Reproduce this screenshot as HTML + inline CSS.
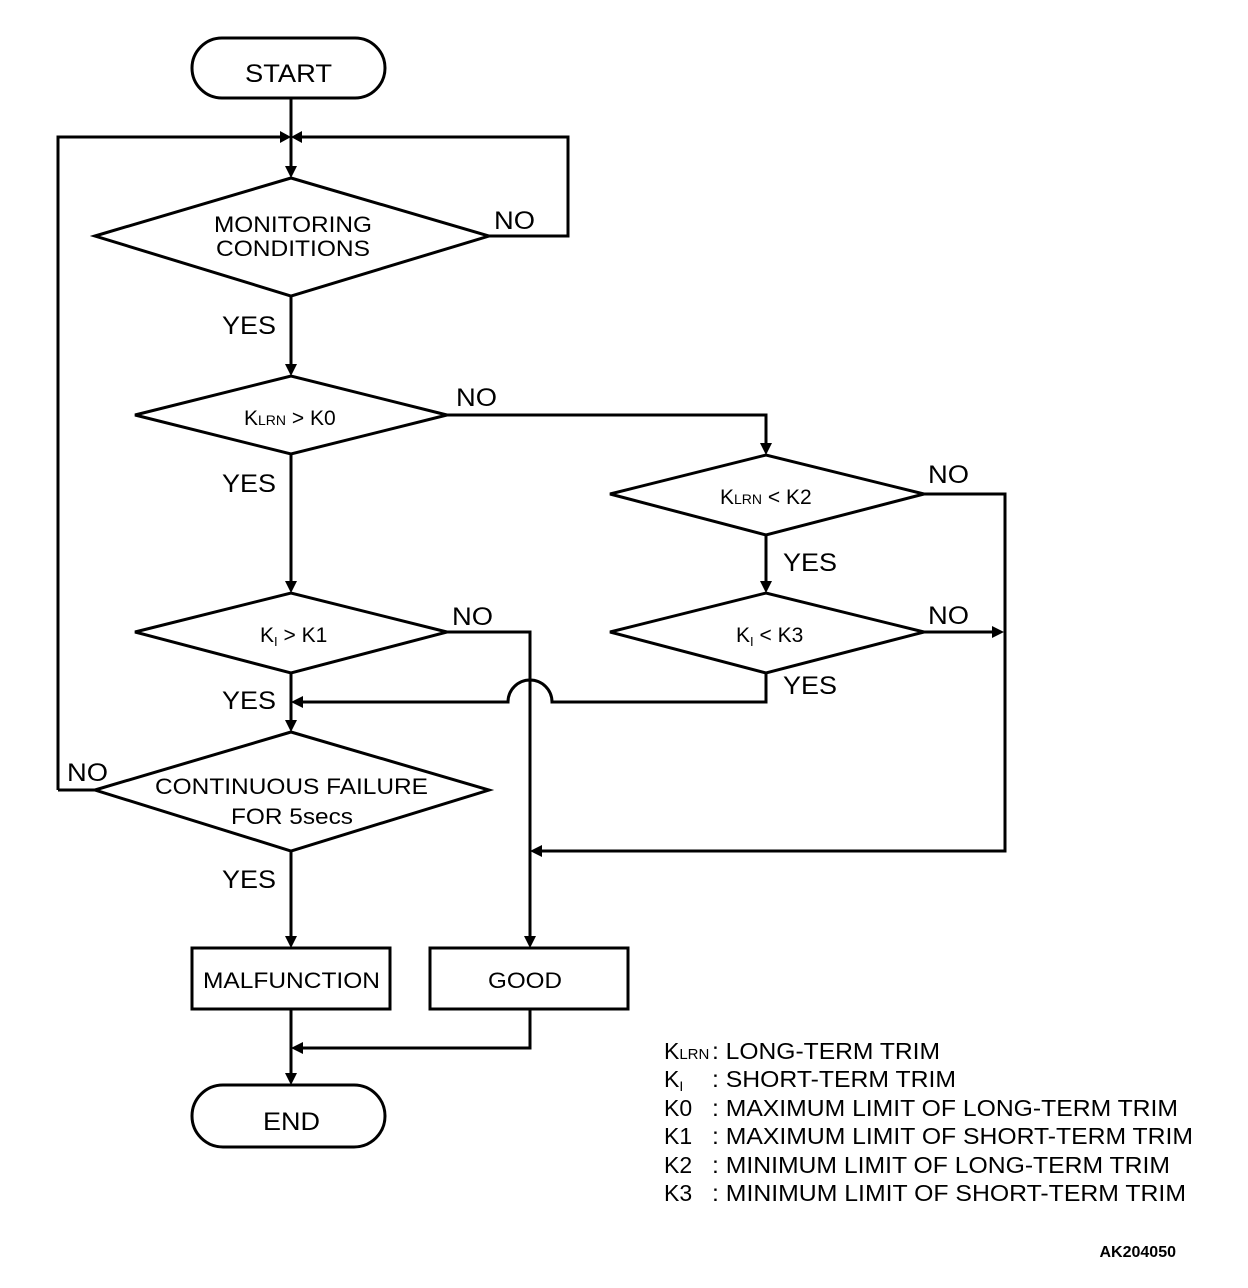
<!DOCTYPE html>
<html><head><meta charset="utf-8"><style>
html,body{margin:0;padding:0;background:#fff;}
svg{display:block;}
text{font-family:"Liberation Sans",Arial,sans-serif;fill:#000;}
</style></head><body>
<svg width="1248" height="1288" viewBox="0 0 1248 1288" xmlns="http://www.w3.org/2000/svg">
<g fill="none" stroke="#000" stroke-width="3">
<rect x="192" y="38" width="193" height="60" rx="30"/>
<polygon points="95,236 291,178 489,236 291,296"/>
<polygon points="135,415 291,376 447,415 291,454"/>
<polygon points="610,494 766,455 924,494 766,535"/>
<polygon points="610,632 766,593 924,632 766,673"/>
<polygon points="135,632 291,593 447,632 291,673"/>
<polygon points="95,790 291,732 489,790 291,851"/>
<rect x="192" y="948" width="198" height="61"/>
<rect x="430" y="948" width="198" height="61"/>
<rect x="192" y="1085" width="193" height="62" rx="31"/>
<polyline points="291,98 291,170"/>
<polyline points="58,790 58,137 283,137"/>
<polyline points="489,236 568,236 568,137 299,137"/>
<polyline points="291,296 291,368"/>
<polyline points="447,415 766,415 766,447"/>
<polyline points="924,494 1005,494 1005,851 538,851"/>
<polyline points="766,535 766,585"/>
<polyline points="924,632 995,632"/>
<path d="M766,673 L766,702 L552,702 A22,22 0 0 0 508,702 L299,702"/>
<polyline points="291,454 291,585"/>
<polyline points="447,632 530,632 530,940"/>
<polyline points="291,673 291,724"/>
<polyline points="95,790 58,790"/>
<polyline points="291,851 291,940"/>
<polyline points="291,1009 291,1077"/>
<polyline points="530,1009 530,1048 299,1048"/>
</g>
<g fill="#000">
<polygon points="291,178 285,166 297,166"/>
<polygon points="291,137 280,131 280,143"/>
<polygon points="291,137 302,131 302,143"/>
<polygon points="291,376 285,364 297,364"/>
<polygon points="766,455 760,443 772,443"/>
<polygon points="530,851 542,845 542,857"/>
<polygon points="766,593 760,581 772,581"/>
<polygon points="1004,632 992,626 992,638"/>
<polygon points="291,702 303,696 303,708"/>
<polygon points="291,593 285,581 297,581"/>
<polygon points="530,948 524,936 536,936"/>
<polygon points="291,732 285,720 297,720"/>
<polygon points="291,948 285,936 297,936"/>
<polygon points="291,1085 285,1073 297,1073"/>
<polygon points="291,1048 303,1042 303,1054"/>
</g>
<g font-size="25" lengthAdjust="spacingAndGlyphs">
<text x="245" y="82" textLength="87" lengthAdjust="spacingAndGlyphs">START</text>
<text x="263" y="1130" textLength="57" lengthAdjust="spacingAndGlyphs">END</text>
<text x="222" y="334" textLength="54" lengthAdjust="spacingAndGlyphs">YES</text>
<text x="222" y="492" textLength="54" lengthAdjust="spacingAndGlyphs">YES</text>
<text x="222" y="709" textLength="54" lengthAdjust="spacingAndGlyphs">YES</text>
<text x="222" y="888" textLength="54" lengthAdjust="spacingAndGlyphs">YES</text>
<text x="783" y="571" textLength="54" lengthAdjust="spacingAndGlyphs">YES</text>
<text x="783" y="694" textLength="54" lengthAdjust="spacingAndGlyphs">YES</text>
<text x="494" y="229" textLength="41" lengthAdjust="spacingAndGlyphs">NO</text>
<text x="456" y="406" textLength="41" lengthAdjust="spacingAndGlyphs">NO</text>
<text x="928" y="483" textLength="41" lengthAdjust="spacingAndGlyphs">NO</text>
<text x="452" y="625" textLength="41" lengthAdjust="spacingAndGlyphs">NO</text>
<text x="928" y="624" textLength="41" lengthAdjust="spacingAndGlyphs">NO</text>
<text x="67" y="781" textLength="41" lengthAdjust="spacingAndGlyphs">NO</text>
</g>
<g font-size="22">
<text x="214" y="232" textLength="158" lengthAdjust="spacingAndGlyphs">MONITORING</text>
<text x="216" y="256" textLength="154" lengthAdjust="spacingAndGlyphs">CONDITIONS</text>
<text x="155" y="794" textLength="273" lengthAdjust="spacingAndGlyphs">CONTINUOUS FAILURE</text>
<text x="231" y="824" textLength="122" lengthAdjust="spacingAndGlyphs">FOR 5secs</text>
<text x="203" y="988" textLength="177" lengthAdjust="spacingAndGlyphs">MALFUNCTION</text>
<text x="488" y="988" textLength="74" lengthAdjust="spacingAndGlyphs">GOOD</text>
</g>
<g font-size="21">
<text x="244" y="425">K<tspan font-size="14">LRN</tspan> &gt; K0</text>
<text x="720" y="504">K<tspan font-size="14">LRN</tspan> &lt; K2</text>
<text x="260" y="642">K<tspan font-size="13" dy="4">I</tspan><tspan dy="-4"> &gt; K1</tspan></text>
<text x="736" y="642">K<tspan font-size="13" dy="4">I</tspan><tspan dy="-4"> &lt; K3</tspan></text>
</g>
<g font-size="23">
<text x="664" y="1059">K<tspan font-size="15">LRN</tspan></text>
<text x="712" y="1059" textLength="228" lengthAdjust="spacingAndGlyphs">: LONG-TERM TRIM</text>
<text x="664" y="1087">K<tspan font-size="14" dy="4">I</tspan></text>
<text x="712" y="1087" textLength="244" lengthAdjust="spacingAndGlyphs">: SHORT-TERM TRIM</text>
<text x="664" y="1116">K0</text>
<text x="712" y="1116" textLength="466" lengthAdjust="spacingAndGlyphs">: MAXIMUM LIMIT OF LONG-TERM TRIM</text>
<text x="664" y="1144">K1</text>
<text x="712" y="1144" textLength="481" lengthAdjust="spacingAndGlyphs">: MAXIMUM LIMIT OF SHORT-TERM TRIM</text>
<text x="664" y="1173">K2</text>
<text x="712" y="1173" textLength="458" lengthAdjust="spacingAndGlyphs">: MINIMUM LIMIT OF LONG-TERM TRIM</text>
<text x="664" y="1201">K3</text>
<text x="712" y="1201" textLength="474" lengthAdjust="spacingAndGlyphs">: MINIMUM LIMIT OF SHORT-TERM TRIM</text>
</g>
<text x="1176" y="1257" font-size="16" font-weight="bold" text-anchor="end">AK204050</text>
</svg>
</body></html>
